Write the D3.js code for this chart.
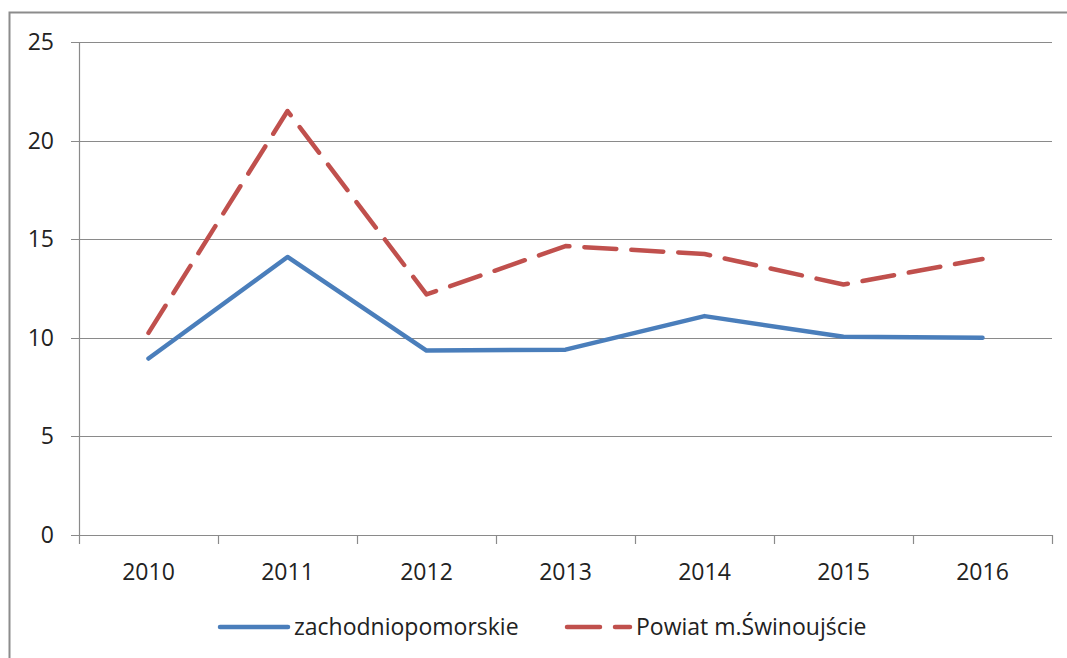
<!DOCTYPE html>
<html>
<head>
<meta charset="utf-8">
<script src="https://cdn.jsdelivr.net/npm/d3@7"></script>
<style>
  body { margin: 0; background: #fff; }
  svg text { font-family: "Open Sans", "Noto Sans", sans-serif; fill: #222; }
</style>
</head>
<body>
<script>
var years = ["2010", "2011", "2012", "2013", "2014", "2015", "2016"];
var zachodniopomorskie = [8.95, 14.1, 9.35, 9.4, 11.1, 10.05, 10.0];
var swinoujscie = [10.25, 21.5, 12.2, 14.65, 14.25, 12.7, 14.0];
var yTicks = [0, 5, 10, 15, 20, 25];
var seriesNames = ["zachodniopomorskie", "Powiat m.Świnoujście"];

var width = 1067, height = 658;
var plotLeft = 79, plotRight = 1052, plotTop = 42, plotBottom = 535;
var fontSize = 23;

var svg = d3.select("body").append("svg")
  .attr("width", width)
  .attr("height", height)

// frame of the chart area
svg.append("rect")
  .attr("x", 9.5).attr("y", 12.5)
  .attr("width", 1100).attr("height", 700)
  .attr("fill", "none")
  .attr("stroke", "#8c8c8c")
  .attr("stroke-width", 2)

var x = d3.scaleBand().domain(years).range([plotLeft, plotRight])
var y = d3.scaleLinear().domain([0, 25]).range([plotBottom, plotTop])

// grid lines
svg.append("g").selectAll("line")
  .data(yTicks)
  .enter().append("line")
  .attr("x1", plotLeft - 8)
  .attr("x2", plotRight)
  .attr("y1", function(d) { return Math.round(y(d)) + 0.5 })
  .attr("y2", function(d) { return Math.round(y(d)) + 0.5 })
  .attr("stroke", "#8a8a8a")
  .attr("stroke-width", 1.2)

svg.append("g").selectAll("text")
  .data(yTicks)
  .enter().append("text")
  .attr("x", 54)
  .attr("y", function(d) { return y(d) + 8 })
  .attr("text-anchor", "end")
  .attr("font-size", fontSize)
  .text(function(d) { return d })

// y axis line
svg.append("line")
  .attr("x1", plotLeft + 0.5).attr("x2", plotLeft + 0.5)
  .attr("y1", plotTop).attr("y2", plotBottom + 9)
  .attr("stroke", "#8a8a8a")
  .attr("stroke-width", 1.2)

// x axis ticks at band edges
var edges = years.map(function(d) { return x(d) }).concat([plotRight])
svg.append("g").selectAll("line")
  .data(edges.slice(1))
  .enter().append("line")
  .attr("x1", function(d) { return Math.round(d) + 0.5 })
  .attr("x2", function(d) { return Math.round(d) + 0.5 })
  .attr("y1", plotBottom)
  .attr("y2", plotBottom + 9)
  .attr("stroke", "#8a8a8a")
  .attr("stroke-width", 1.2)

svg.append("g").selectAll("text")
  .data(years)
  .enter().append("text")
  .attr("x", function(d) { return x(d) + x.bandwidth() / 2 })
  .attr("y", 580)
  .attr("text-anchor", "middle")
  .attr("font-size", fontSize)
  .text(function(d) { return d })

var line = d3.line()
  .x(function(d, i) { return x(years[i]) + x.bandwidth() / 2 })
  .y(function(d) { return y(d) })

svg.append("path")
  .datum(zachodniopomorskie)
  .attr("d", line)
  .attr("fill", "none")
  .attr("stroke", "#4a7ebb")
  .attr("stroke-width", 4.5)
  .attr("stroke-linecap", "round")
  .attr("stroke-linejoin", "round")

svg.append("path")
  .datum(swinoujscie)
  .attr("d", line)
  .attr("fill", "none")
  .attr("stroke", "#c0504d")
  .attr("stroke-width", 4.5)
  .attr("stroke-dasharray", "32,15")
  .attr("stroke-linecap", "round")
  .attr("stroke-linejoin", "round")

// legend
var legendY = 627;
svg.append("line")
  .attr("x1", 220).attr("x2", 288)
  .attr("y1", legendY).attr("y2", legendY)
  .attr("stroke", "#4a7ebb")
  .attr("stroke-width", 4.5)
  .attr("stroke-linecap", "round")
svg.append("text")
  .attr("x", 294).attr("y", legendY + 8)
  .attr("font-size", fontSize)
  .text(seriesNames[0])

svg.append("line")
  .attr("x1", 567).attr("x2", 630)
  .attr("y1", legendY).attr("y2", legendY)
  .attr("stroke", "#c0504d")
  .attr("stroke-width", 4.5)
  .attr("stroke-dasharray", "33,15")
  .attr("stroke-linecap", "round")
svg.append("text")
  .attr("x", 636).attr("y", legendY + 8)
  .attr("font-size", fontSize)
  .text(seriesNames[1])
</script>
</body>
</html>
